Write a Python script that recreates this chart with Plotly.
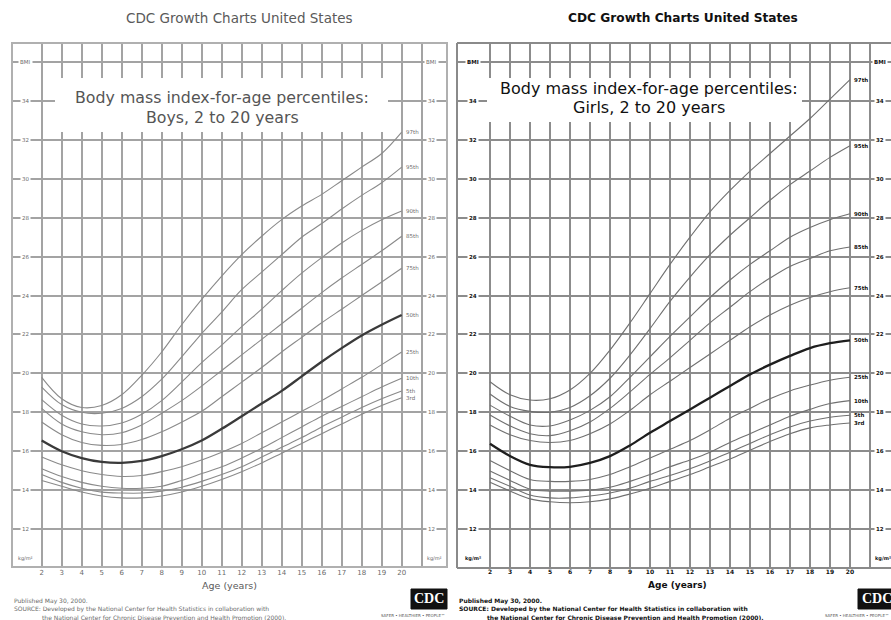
import plotly.graph_objects as go

# ---------------- data ----------------
ages = list(range(2, 21))
grid_ages = list(range(2, 22))
age_labels = [str(a) for a in range(2, 21)] + [""]
bmi_ticks = list(range(12, 37, 2))
bmi_labels = [str(v) for v in range(12, 36, 2)] + ["BMI"]
pct_names = ["3rd", "5th", "10th", "25th", "50th", "75th", "85th", "90th", "95th", "97th"]

boys_p3 = [14.5, 14.2, 13.9, 13.7, 13.6, 13.6, 13.7, 13.9, 14.2, 14.55, 14.95, 15.4, 15.9, 16.4, 16.9, 17.4, 17.9, 18.35, 18.75]
boys_p5 = [14.8, 14.4, 14.1, 13.9, 13.85, 13.85, 13.95, 14.15, 14.45, 14.8, 15.2, 15.7, 16.2, 16.7, 17.25, 17.75, 18.25, 18.7, 19.1]
boys_p10 = [15.1, 14.7, 14.4, 14.2, 14.1, 14.1, 14.2, 14.5, 14.85, 15.2, 15.65, 16.15, 16.7, 17.25, 17.8, 18.3, 18.8, 19.3, 19.75]
boys_p25 = [15.7, 15.3, 15.0, 14.8, 14.7, 14.75, 14.95, 15.2, 15.55, 15.95, 16.4, 16.95, 17.5, 18.05, 18.6, 19.2, 19.8, 20.45, 21.1]
boys_p50 = [16.55, 16.0, 15.65, 15.45, 15.4, 15.5, 15.75, 16.1, 16.55, 17.15, 17.8, 18.45, 19.1, 19.85, 20.6, 21.3, 21.95, 22.5, 23.0]
boys_p75 = [17.5, 16.85, 16.45, 16.3, 16.35, 16.6, 17.0, 17.5, 18.05, 18.8, 19.55, 20.3, 21.1, 21.85, 22.6, 23.3, 24.0, 24.7, 25.4]
boys_p85 = [18.2, 17.4, 17.0, 16.85, 16.95, 17.35, 17.95, 18.6, 19.35, 20.15, 20.95, 21.75, 22.55, 23.35, 24.15, 24.9, 25.6, 26.3, 27.05]
boys_p90 = [18.65, 17.85, 17.4, 17.3, 17.45, 17.9, 18.6, 19.55, 20.55, 21.45, 22.4, 23.3, 24.25, 25.15, 25.95, 26.7, 27.35, 27.9, 28.35]
boys_p95 = [19.3, 18.4, 18.0, 17.95, 18.2, 18.8, 19.7, 20.85, 22.05, 23.15, 24.3, 25.2, 26.1, 27.0, 27.7, 28.45, 29.15, 29.8, 30.6]
boys_p97 = [19.8, 18.7, 18.25, 18.35, 18.9, 19.9, 21.1, 22.5, 23.8, 25.0, 26.1, 27.05, 27.9, 28.6, 29.2, 29.9, 30.6, 31.3, 32.4]

girls_p3 = [14.4, 13.95, 13.55, 13.4, 13.35, 13.4, 13.55, 13.8, 14.1, 14.45, 14.8, 15.2, 15.6, 16.05, 16.5, 16.9, 17.2, 17.35, 17.45]
girls_p5 = [14.64, 14.2, 13.75, 13.6, 13.6, 13.7, 13.85, 14.1, 14.45, 14.75, 15.1, 15.5, 15.95, 16.4, 16.85, 17.25, 17.55, 17.75, 17.85]
girls_p10 = [14.98, 14.5, 14.05, 13.95, 13.95, 14.0, 14.15, 14.45, 14.8, 15.2, 15.55, 15.95, 16.45, 16.9, 17.35, 17.8, 18.15, 18.45, 18.6]
girls_p25 = [15.52, 15.0, 14.55, 14.45, 14.45, 14.55, 14.8, 15.2, 15.65, 16.1, 16.55, 17.1, 17.7, 18.2, 18.7, 19.1, 19.4, 19.65, 19.8]
girls_p50 = [16.38, 15.75, 15.3, 15.18, 15.2, 15.4, 15.75, 16.3, 16.95, 17.55, 18.15, 18.75, 19.35, 19.95, 20.45, 20.9, 21.3, 21.55, 21.7]
girls_p75 = [17.35, 16.85, 16.55, 16.45, 16.55, 16.9, 17.4, 18.1, 18.9, 19.6, 20.3, 21.0, 21.7, 22.4, 23.0, 23.5, 23.9, 24.2, 24.4]
girls_p85 = [17.86, 17.3, 16.9, 16.8, 17.05, 17.5, 18.2, 19.05, 19.95, 20.8, 21.7, 22.6, 23.4, 24.2, 24.9, 25.5, 25.9, 26.3, 26.5]
girls_p90 = [18.37, 17.8, 17.35, 17.3, 17.6, 18.1, 18.8, 19.8, 20.85, 21.9, 22.9, 23.9, 24.8, 25.6, 26.3, 27.0, 27.5, 27.9, 28.2]
girls_p95 = [18.94, 18.3, 18.05, 18.0, 18.25, 18.85, 19.75, 20.95, 22.3, 23.7, 24.95, 26.1, 27.1, 28.0, 28.9, 29.7, 30.4, 31.1, 31.7]
girls_p97 = [19.57, 18.9, 18.63, 18.7, 19.15, 20.0, 21.2, 22.6, 24.1, 25.6, 27.0, 28.3, 29.4, 30.4, 31.3, 32.2, 33.1, 34.1, 35.1]

boys_series = [boys_p3, boys_p5, boys_p10, boys_p25, boys_p50, boys_p75, boys_p85, boys_p90, boys_p95, boys_p97]
girls_series = [girls_p3, girls_p5, girls_p10, girls_p25, girls_p50, girls_p75, girls_p85, girls_p90, girls_p95, girls_p97]

main_title = "CDC Growth Charts United States"
box_line1 = "Body mass index-for-age percentiles:"
boys_line2 = "Boys, 2 to 20 years"
girls_line2 = "Girls, 2 to 20 years"
x_title = "Age (years)"
footer1 = "Published May 30, 2000."
footer2 = "SOURCE: Developed by the National Center for Health Statistics in collaboration with"
footer3 = "the National Center for Chronic Disease Prevention and Health Promotion (2000)."
tagline = "SAFER \u2022 HEALTHIER \u2022 PEOPLE\u2122"

# ---------------- layout helpers ----------------
W, H = 891, 620


def px(x):
    return x / W


def py(y):
    return 1 - y / H


FONT = "DejaVu Sans"
GRAY_TXT = "#6a6a6a"
fig = go.Figure()

panels = [
    dict(series=boys_series, xa="x", ya="y", curve="#8a8a8a", bold="#3a3a3a",
         txt=GRAY_TXT, weight="normal", line2=boys_line2),
    dict(series=girls_series, xa="x2", ya="y2", curve="#707070", bold="#1e1e1e",
         txt="#111111", weight="bold", line2=girls_line2),
]

for p in panels:
    for name, vals in zip(pct_names, p["series"]):
        is50 = name == "50th"
        fig.add_trace(go.Scatter(
            x=ages, y=vals, mode="lines", xaxis=p["xa"], yaxis=p["ya"],
            line=dict(color=p["bold"] if is50 else p["curve"], width=2.3 if is50 else 1.1,
                      shape="spline", smoothing=1.0),
            showlegend=False, hoverinfo="skip"))

ydom = [py(567), py(43)]
yr = [10.05, 36.98]
common_x = dict(tickvals=grid_ages, ticktext=age_labels, showgrid=True, gridwidth=1.6,
                zeroline=False, showline=False, ticks="", fixedrange=True)
common_y = dict(tickvals=bmi_ticks, showticklabels=False, showgrid=True, gridwidth=1.6,
                zeroline=False, showline=False, ticks="", range=yr, domain=ydom, fixedrange=True)

fig.update_layout(
    width=W, height=H, margin=dict(l=0, r=0, t=0, b=0),
    paper_bgcolor="white", plot_bgcolor="white", showlegend=False,
    xaxis=dict(domain=[px(12), px(447)], range=[0.515, 22.265], anchor="y",
               gridcolor="#a3a3a3", tickfont=dict(family=FONT, size=7, color=GRAY_TXT),
               **common_x),
    yaxis=dict(anchor="x", gridcolor="#a3a3a3", **common_y),
    xaxis2=dict(domain=[px(457), 1.0], range=[0.35, 22.05], anchor="y2",
                gridcolor="#8c8c8c", tickfont=dict(family=FONT, size=6, color="#111", weight="bold"),
                **common_x),
    yaxis2=dict(anchor="x2", gridcolor="#8c8c8c", **common_y),
)

shapes = []
# panel frames
shapes.append(dict(type="rect", xref="paper", yref="paper", x0=px(12), x1=px(447), y0=py(567), y1=py(43),
                   line=dict(color="#b0b0b0", width=2), fillcolor="rgba(0,0,0,0)", layer="above"))
for (x0, y0, x1, y1) in [(457, 43, 891, 43), (457, 43, 457, 568), (457, 568, 891, 568)]:
    shapes.append(dict(type="line", xref="paper", yref="paper", x0=px(x0), x1=px(x1), y0=py(y0), y1=py(y1),
                       line=dict(color="#8a8a8a", width=2), layer="above"))
# title boxes (white, hide the grid)
shapes.append(dict(type="rect", xref="paper", yref="paper", x0=px(55), x1=px(388), y0=py(132), y1=py(78),
                   line=dict(width=0), fillcolor="white", layer="above"))
shapes.append(dict(type="rect", xref="paper", yref="paper", x0=px(487), x1=px(802), y0=py(122), y1=py(78),
                   line=dict(width=0), fillcolor="white", layer="above"))
# CDC logos
for (x0, x1) in [(411, 447), (858, 895)]:
    shapes.append(dict(type="rect", xref="paper", yref="paper", x0=px(x0), x1=px(x1), y0=py(609), y1=py(589),
                       line=dict(color="#111", width=1), fillcolor="#111", layer="above"))
fig.update_layout(shapes=shapes)

ann = []


def add(text, x, y, size, color, weight="normal", xanchor="center", yanchor="middle", xref="paper", yref="paper",
        bg=None, family=FONT, xshift=0):
    d = dict(text=text, x=x, y=y, xref=xref, yref=yref, showarrow=False, xanchor=xanchor, yanchor=yanchor,
             font=dict(family=family, size=size, color=color, weight=weight), xshift=xshift)
    if bg:
        d.update(bgcolor=bg, borderpad=1)
    ann.append(d)


# main titles
add(main_title, px(239), py(18), 13.5, "#5a5a5a")
add(main_title, px(683), py(18), 12.2, "#111", weight="bold")
# box titles
add(box_line1, px(222), py(97), 15.8, "#555")
add(boys_line2, px(222), py(117), 15.8, "#555")
add(box_line1, px(649), py(88), 16, "#111")
add(girls_line2, px(649), py(107), 16, "#111")

# y labels inside the frames
for p, xl, xr in [(panels[0], 1.2, 21.5), (panels[1], 1.15, 21.5)]:
    for v, lab in zip(bmi_ticks, bmi_labels):
        for xx in (xl, xr):
            add(lab, xx, v, 5.5, p["txt"], weight=p["weight"], xref=p["xa"], yref=p["ya"], bg="white")
    for xx in (xl, xr + 0.15):
        add("kg/m\u00b2", xx, 10.5, 5, p["txt"], weight=p["weight"], xref=p["xa"], yref=p["ya"])
    # percentile labels at curve ends
    for name, vals in zip(pct_names, p["series"]):
        add(name, ages[-1], vals[-1], 5.5, p["txt"], weight=p["weight"], xanchor="left",
            xref=p["xa"], yref=p["ya"], xshift=2)

# x axis titles
add(x_title, px(229), py(585), 9.5, "#5a5a5a")
add(x_title, px(677), py(585), 9, "#111", weight="bold")

# footers
for x0, col, wt in [(12, "#6a6a6a", "normal"), (457, "#111", "bold")]:
    add(footer1, px(x0), py(601), 6, col, weight=wt, xanchor="left")
    add(footer2, px(x0), py(609), 6, col, weight=wt, xanchor="left")
    add(footer3, px(x0 + 28), py(617), 6, col, weight=wt, xanchor="left")

# logos
add("CDC", px(429), py(598), 14, "white", weight="bold", family="Liberation Serif")
add("CDC", px(877), py(598), 14, "white", weight="bold", family="Liberation Serif")
add(tagline, px(447), py(615), 4, "#555", xanchor="right")
add(tagline, px(891), py(615), 4, "#555", xanchor="right")

fig.update_layout(annotations=ann)
fig.write_html("out.html", config={"displayModeBar": False},
               post_script="document.body.style.margin='0px';document.body.style.overflow='hidden';")
